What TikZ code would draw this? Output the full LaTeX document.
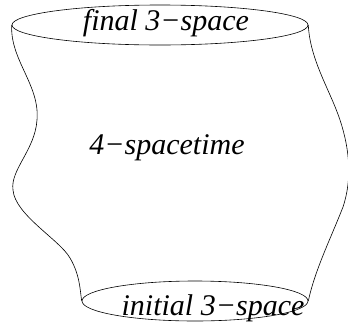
\documentclass[tikz,border=0pt]{standalone}
\usepackage{fontspec}
\usetikzlibrary{shapes.geometric}
\setmainfont{Liberation Serif}[ItalicFont={Liberation Serif Italic}]
\begin{document}
\begin{tikzpicture}[x=1pt,y=-1pt,
  lbl/.style={font=\fontsize{30}{32}\selectfont\itshape, anchor=base, inner sep=0pt},
  rim/.style={draw, line width=0.6pt},
  side/.style={draw, line width=0.6pt}]
\useasboundingbox (0,0) rectangle (348,327);
\node[rim, ellipse, minimum width=296pt, minimum height=40pt, inner sep=0pt] (top) at (160,25) {};
\node[rim, ellipse, minimum width=226pt, minimum height=40pt, inner sep=0pt] (bot) at (195,301) {};
\coordinate (tl) at (top.west);
\coordinate (tr) at (top.east);
\coordinate (bl) at (bot.west);
\coordinate (br) at (bot.east);
\draw[side] (tl) .. controls (10,60) and (40,85) .. (37,120)
  .. controls (35,150) and (10,170) .. (13,190)
  .. controls (15,215) and (60,240) .. (70,258)
  .. controls (80,275) and (80,290) .. (bl);
\draw[side] (tr) .. controls (310,60) and (330,90) .. (340,120)
  .. controls (350,150) and (352,180) .. (343,207)
  .. controls (330,240) and (315,270) .. (br);
\node[lbl] (f) at (166,30) {final 3−space};
\node[lbl] (s) at (167,154) {4−spacetime};
\node[lbl] (i) at (213,315) {initial 3−space};
\end{tikzpicture}
\end{document}
